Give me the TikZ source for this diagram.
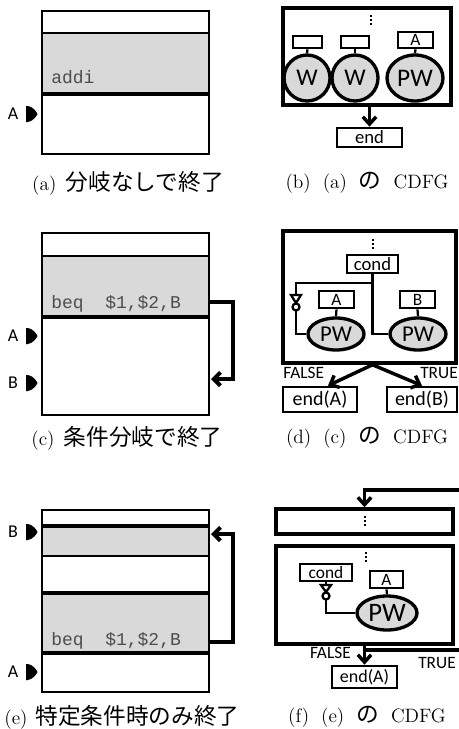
\documentclass[tikz,border=0pt]{standalone}
\usepackage{fontspec}
\newfontfamily\cjk{Noto Sans CJK JP}
\newfontfamily\lab{Carlito}
\newfontfamily\code{Liberation Mono}
\usetikzlibrary{arrows.meta,shapes.geometric,calc}
\definecolor{cellgray}{HTML}{D9D9D9}
\definecolor{codegray}{HTML}{4D4D4D}
\newcommand\mkrshape[1]{\fill (26,#1-8) -- (28,#1-8) .. controls (33,#1-7) and (36,#1-3) .. (37.5,#1) .. controls (36,#1+3) and (33,#1+7) .. (28,#1+8) -- (26,#1+8) -- cycle;}
\newcommand\bx[7]{\node[#6, minimum width={(#4-#2)*0.75pt}, minimum height={(#5-#3)*0.75pt}] (#1) at ({(#2+#4)/2},{(#3+#5)/2}) {#7};}
\newcommand\capjp[1]{{\cjk\fontsize{17}{20}\selectfont #1}}
\newcommand\capgap{\hspace{9pt}}
\begin{document}
\begin{tikzpicture}[x=0.75pt,y=-0.75pt,
  memrect/.style={draw, line width=1.9pt, inner sep=0pt},
  rowthin/.style={line width=1.7pt},
  rowthick/.style={line width=2.8pt},
  codetxt/.style={font=\code\fontsize{13.5}{15}\selectfont, text=codegray, inner sep=0pt},
  mklab/.style={font=\lab\fontsize{13.5}{15}\selectfont, inner sep=0pt},
  brarr/.style={line width=3pt, -{Straight Barb[length=5pt,width=10pt]}},
  frame/.style={draw, line width=2.6pt, inner sep=0pt},
  sbox/.style={draw, line width=2pt, inner sep=0pt, font=\lab\fontsize{13}{15}\selectfont},
  ell/.style={draw, ellipse, line width=2.5pt, fill=cellgray, inner sep=0pt},
  conn/.style={line width=1.7pt},
  bigarr/.style={line width=2.6pt, -{Straight Barb[length=5.5pt,width=10pt]}},
  bigline/.style={line width=2.6pt},
  dotsty/.style={line width=1.7pt, dash pattern=on 1.5pt off 1.5pt},
  tflab/.style={font=\lab\fontsize{13}{15}\selectfont, inner sep=0pt},
  captxt/.style={font=\fontsize{14.5}{18}\selectfont, inner sep=0pt}
]
\clip (0,0) rectangle (459,729);
\fill[white] (0,0) rectangle (459,729);

% ---------------- (a) ----------------
\fill[cellgray] (42,33) rectangle (209,94);
\draw[rowthin] (42,33) -- (209,33);
\draw[rowthick] (42,94) -- (209,94);
\bx{ma}{42}{11}{209}{154}{memrect}{}
\node[codetxt, anchor=base west] (ta) at (51,83) {addi};
\mkrshape{114}
\node[mklab] (la) at (13,114) {A};
\node[captxt] (capa) at (128,183) {(a)\hspace{7pt}\capjp{分岐なしで終了}};

% ---------------- (b) ----------------
\bx{fb}{283}{8}{451}{105}{frame}{}
\draw[dotsty] (371,15) -- (371,26);
\bx{b1}{293}{36}{322}{48}{sbox}{}
\bx{b2}{341}{36}{369}{48}{sbox}{}
\bx{bA}{398}{32}{433}{48}{sbox}{A}
\node[ell, minimum width=34.5pt, minimum height=34.5pt, font=\lab\fontsize{18}{20}\selectfont] (w1) at (307,78) {W};
\node[ell, minimum width=34.5pt, minimum height=34.5pt, font=\lab\fontsize{18}{20}\selectfont] (w2) at (355,78) {W};
\node[ell, minimum width=42pt, minimum height=34.5pt, font=\lab\fontsize{19}{21}\selectfont] (pwb) at (415,78) {PW};
\draw[conn] (b1.south) -- (w1.north);
\draw[conn] (b2.south) -- (w2.north);
\draw[conn] (bA.south) -- (pwb.north);
\bx{eb}{337}{128}{402}{147}{sbox, font=\lab\fontsize{14}{16}\selectfont}{end}
\draw[bigarr] (eb.north |- fb.south) -- (eb.north);
\node[captxt] (capb) at (367,183) {(b)\capgap(a)\capgap\capjp{の}\capgap CDFG};

% ---------------- (c) ----------------
\fill[cellgray] (42,256) rectangle (209,317);
\draw[rowthin] (42,256) -- (209,256);
\draw[rowthick] (42,317) -- (209,317);
\bx{mc}{42}{233}{209}{415}{memrect}{}
\node[codetxt, anchor=base west] (tc) at (51,308) {beq\ \ \$1,\$2,B};
\mkrshape{336}
\node[mklab] (lcA) at (13,336) {A};
\mkrshape{383}
\node[mklab] (lcB) at (13,383) {B};
\coordinate (cs) at (209,302);
\coordinate (ct) at (211,379);
\draw[brarr] (cs) -- ++(24,0) |- (ct);
\node[captxt] (capc) at (127,438) {(c)\hspace{7pt}\capjp{条件分岐で終了}};

% ---------------- (d) ----------------
\bx{fd}{283}{231}{456}{363}{frame}{}
\draw[dotsty] (373,239) -- (373,250);
\bx{cd}{347}{255}{398}{273}{sbox, font=\lab\fontsize{14}{16}\selectfont}{cond}
\bx{dA}{319}{291}{354}{308}{sbox}{A}
\bx{dB}{400}{291}{435}{308}{sbox}{B}
\node[ell, minimum width=42pt, minimum height=24pt, font=\lab\fontsize{17}{19}\selectfont] (pdA) at (336,334) {PW};
\node[ell, minimum width=42pt, minimum height=24pt, font=\lab\fontsize{17}{19}\selectfont] (pdB) at (418,334) {PW};
\draw[conn] (dA.south) -- (pdA.north);
\draw[conn] (dB.south) -- (pdB.north);
\coordinate (jd) at (372.5,283);
\coordinate (invd) at (296,295);
\coordinate (invdb) at (296,310.5);
\draw[conn] (cd.south) |- (pdB.west);
\draw[conn] (jd) -| (invd);
\draw[conn, fill=white] (291,295) -- (301,295) -- (296,303) -- cycle;
\draw[conn, fill=white] (296,307) circle [radius=3.5];
\draw[conn] (invdb) |- (pdA.west);
\bx{edA}{283}{387}{357}{412}{sbox, font=\lab\fontsize{15}{17}\selectfont}{end(A)}
\bx{edB}{387}{387}{457}{412}{sbox, font=\lab\fontsize{15}{17}\selectfont}{end(B)}
\coordinate (ds) at (cd.south |- fd.south);
\draw[bigarr] (ds) -- ([xshift=6pt]edA.north);
\draw[bigarr] (ds) -- (edB.north);
\node[tflab, anchor=west] (fal) at (283,373) {FALSE};
\node[tflab, anchor=east] (tru) at (458,373) {TRUE};
\node[captxt] (capd) at (367,438) {(d)\capgap(c)\capgap\capjp{の}\capgap CDFG};

% ---------------- (e) ----------------
\fill[cellgray] (42,526) rectangle (209,556);
\fill[cellgray] (42,593) rectangle (209,653);
\draw[rowthick] (42,526) -- (209,526);
\draw[rowthin] (42,556) -- (209,556);
\draw[rowthick] (42,593) -- (209,593);
\draw[rowthick] (42,653) -- (209,653);
\bx{me}{42}{510}{209}{692}{memrect}{}
\node[codetxt, anchor=base west] (te) at (51,645) {beq\ \ \$1,\$2,B};
\mkrshape{532}
\node[mklab] (leB) at (13,532) {B};
\mkrshape{672}
\node[mklab] (leA) at (13,672) {A};
\coordinate (es) at (209,642);
\coordinate (et) at (211,534);
\draw[brarr] (es) -- ++(24,0) |- (et);
\node[captxt] (cape) at (122,717) {(e)\hspace{6pt}\capjp{特定条件時のみ終了}};

% ---------------- (f) ----------------
\bx{fu}{276}{509}{453}{534}{frame}{}
\draw[dotsty] (365,516) -- (365,527);
\bx{ff}{276}{546}{453}{644}{frame}{}
\draw[dotsty] (366,552) -- (366,563);
\coordinate (lp) at (462,490);
\draw[bigarr] (lp) -| (fu.north);
\bx{cf}{300}{564}{352}{581}{sbox}{cond}
\bx{fA}{370}{571}{403}{588}{sbox}{A}
\node[ell, minimum width=45pt, minimum height=25.5pt, font=\lab\fontsize{20}{22}\selectfont] (pfA) at (387,613) {PW};
\draw[conn] (fA.south) -- (pfA.north);
\coordinate (invf) at (326,585);
\coordinate (invfb) at (326,599.5);
\draw[conn] (cf.south) -- (invf);
\draw[conn, fill=white] (321,585) -- (331,585) -- (326,592) -- cycle;
\draw[conn, fill=white] (326,596) circle [radius=3.5];
\draw[conn] (invfb) |- (pfA.west);
\bx{ef}{332}{666}{397}{688}{sbox, font=\lab\fontsize{13.5}{15}\selectfont}{end(A)}
\draw[bigarr] (ff.south) -- (ef.north);
\coordinate (tj) at (364.5,650);
\coordinate (tl) at (462,650);
\draw[bigline] (tj) -- (tl);
\node[tflab, anchor=east] (faf) at (351,653) {FALSE};
\node[tflab] (trf) at (437,663) {TRUE};
\node[captxt] (capf) at (367,717) {(f)\capgap(e)\capgap\capjp{の}\capgap CDFG};
\end{tikzpicture}
\end{document}
